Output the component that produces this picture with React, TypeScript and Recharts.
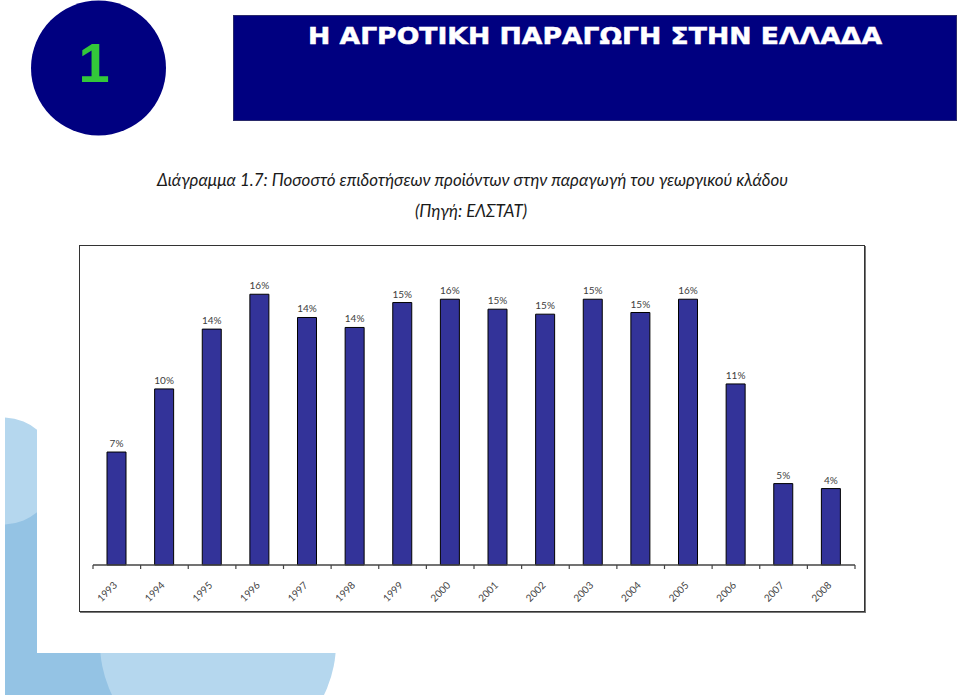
import React from 'react';
import { BarChart, Bar, XAxis, YAxis, LabelList } from 'recharts';

// Ποσοστό επιδοτήσεων προϊόντων (% της παραγωγής), ΕΛΣΤΑΤ
const years = ['1993', '1994', '1995', '1996', '1997', '1998', '1999', '2000', '2001', '2002', '2003', '2004', '2005', '2006', '2007', '2008'];
const shares = [6.8, 10.6, 14.2, 16.3, 14.9, 14.3, 15.8, 16.0, 15.4, 15.1, 16.0, 15.2, 16.0, 10.9, 4.9, 4.6];
const shareLabels = ['7%', '10%', '14%', '16%', '14%', '14%', '15%', '16%', '15%', '15%', '15%', '15%', '16%', '11%', '5%', '4%'];

const slideTitle = 'Η ΑΓΡΟΤΙΚΗ ΠΑΡΑΓΩΓΗ ΣΤΗΝ ΕΛΛΑΔΑ';
const chartTitle = 'Διάγραμμα 1.7: Ποσοστό επιδοτήσεων προϊόντων στην παραγωγή του γεωργικού κλάδου';
const chartSource = '(Πηγή: ΕΛΣΤΑΤ)';

const CHART_W = 784;
const CHART_H = 365;
const MARGIN = { top: 20, right: 9, bottom: 0, left: 13 };
const BAND = (CHART_W - MARGIN.left - MARGIN.right) / years.length;

const data = years.map((year, i) => ({ year, share: shares[i], label: shareLabels[i] }));

const labelFont = "Lato, 'Open Sans', sans-serif";

const YearTick = (props: any) => {
    const { x, y, payload } = props;
    const idx = payload?.index ?? props.index;
    const left = x - BAND / 2;
    const right = x + BAND / 2;
    const tx = x + 1;
    const ty = y + 21;
    return (
        <g>
            <line x1={left} y1={y} x2={left} y2={y + 4} stroke="#444" strokeWidth={1.2} />
            {idx === years.length - 1 && (
                <line x1={right} y1={y} x2={right} y2={y + 4} stroke="#444" strokeWidth={1.2} />
            )}
            <text
                x={tx}
                y={ty}
                textAnchor="end"
                transform={`rotate(-45, ${tx}, ${ty})`}
                fontSize={10}
                fontFamily={labelFont}
                fill="#444"
            >
                {payload.value}
            </text>
        </g>
    );
};

const Decor = () => (
    <svg width={960} height={696} style={{ position: 'absolute', left: 0, top: 0 }}>
        <defs>
            <clipPath id="bottomStrip">
                <rect x={0} y={653} width={960} height={42} />
            </clipPath>
            <clipPath id="leftStrip">
                <rect x={5} y={0} width={32} height={696} />
            </clipPath>
        </defs>
        {/* light blue L shape, bottom left */}
        <rect x={5} y={470} width={32} height={225} fill="#94c3e4" />
        <rect x={5} y={653} width={120} height={42} fill="#94c3e4" />
        <circle cx={3} cy={471} r={53.5} fill="#b5d7ee" clipPath="url(#leftStrip)" />
        <circle cx={218} cy={643} r={118} fill="#b5d7ee" clipPath="url(#bottomStrip)" />

        {/* section badge */}
        <circle cx={98.5} cy={68} r={67.5} fill="#000080" />
        <text x={94} y={82} textAnchor="middle" fontSize={56} fontWeight="bold" fontFamily="'Liberation Sans', Arial, sans-serif" fill="#33c83a">
            1
        </text>

        {/* header bar */}
        <rect x={233.5} y={15.5} width={723} height={105} fill="#000080" stroke="#2a2a6a" />
        <text x={308} y={44} fontSize={23.5} fontWeight="bold" fontFamily="'DejaVu Sans', sans-serif" fill="#ffffff" stroke="#ffffff" strokeWidth={0.5} textLength={574} lengthAdjust="spacingAndGlyphs">
            {slideTitle}
        </text>

        {/* chart caption */}
        <text x={157} y={186} fontSize={17} fontStyle="italic" fontFamily={labelFont} fill="#1a1a1a" textLength={631} lengthAdjust="spacingAndGlyphs">
            {chartTitle}
        </text>
        <text x={471} y={217} textAnchor="middle" fontSize={17} fontStyle="italic" fontFamily={labelFont} fill="#1a1a1a">
            {chartSource}
        </text>
    </svg>
);

const App: React.FC = () => {
    return (
        <div style={{ position: 'absolute', left: 0, top: 0, width: 960, height: 696, background: '#fff', overflow: 'hidden' }}>
            <Decor />
            <div
                style={{
                    position: 'absolute',
                    left: 79,
                    top: 245,
                    width: CHART_W,
                    height: CHART_H,
                    border: '1px solid #333',
                    boxShadow: '1px 1px 0 #777',
                    background: '#fff',
                }}
            >
                <BarChart width={CHART_W} height={CHART_H} data={data} margin={MARGIN}>
                    <XAxis
                        dataKey="year"
                        interval={0}
                        height={46}
                        tickSize={0}
                        tickMargin={0}
                        tickLine={false}
                        axisLine={{ stroke: '#444', strokeWidth: 1.5 }}
                        tick={<YearTick />}
                    />
                    <YAxis hide domain={[0, 18]} />
                    <Bar dataKey="share" fill="#333399" stroke="#000" strokeWidth={1} barSize={19} isAnimationActive={false}>
                        <LabelList dataKey="label" position="top" offset={5} fontSize={10} fontFamily={labelFont} fill="#404040" />
                    </Bar>
                </BarChart>
            </div>
        </div>
    );
};

export default App;
